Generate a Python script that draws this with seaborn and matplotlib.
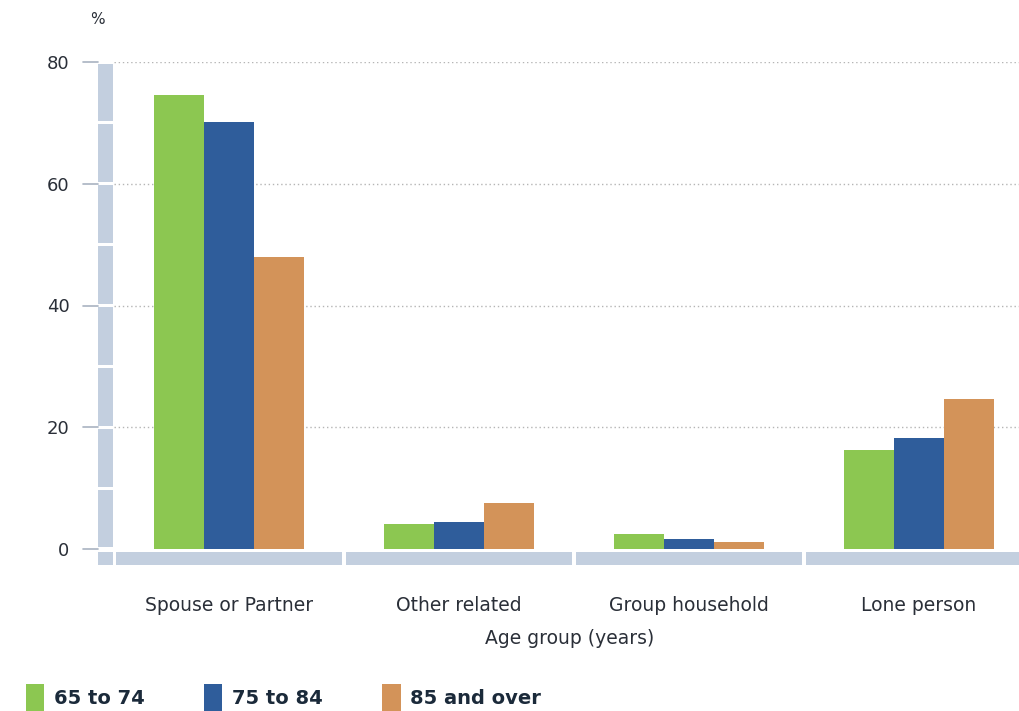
import matplotlib
matplotlib.use("Agg")
import matplotlib.pyplot as plt
import matplotlib.transforms as mtransforms
from matplotlib.patches import Rectangle, Patch
import seaborn as sns
import pandas as pd

categories = ["Spouse or Partner", "Other related", "Group household", "Lone person"]
age_groups = ["65 to 74", "75 to 84", "85 and over"]
vals_65_74 = [74.5, 4.1, 2.5, 16.3]
vals_75_84 = [70.2, 4.4, 1.7, 18.2]
vals_85_over = [47.9, 7.6, 1.1, 24.6]
yticks = [0, 20, 40, 60, 80]

colors = ["#8cc751", "#2f5d9b", "#d39359"]
strip_color = "#c3cfdf"

rows = []
for g, vals in zip(age_groups, [vals_65_74, vals_75_84, vals_85_over]):
    for c, v in zip(categories, vals):
        rows.append({"cat": c, "age": g, "val": v})
df = pd.DataFrame(rows)

sns.set_theme(style="white")
plt.rcParams["font.family"] = ["DejaVu Sans"]
text_color = "#2a2f38"

AX_W = 920
fig = plt.figure(figsize=(10.2, 7.11), dpi=100)
ax = fig.add_axes([114 / 1020, 1 - 549 / 711, AX_W / 1020, 487 / 711])

sns.barplot(data=df, x="cat", y="val", hue="age", order=categories,
            hue_order=age_groups, palette=colors, width=0.65, ax=ax,
            legend=False, saturation=1, edgecolor="none", linewidth=0)

ax.set_xlim(-0.5, 3.5)
ax.set_ylim(0, 80)
for s in ax.spines.values():
    s.set_visible(False)

# grid lines
for y in yticks[1:]:
    ax.axhline(y, color="#b5b5b5", linestyle=(0, (1, 2)), linewidth=1.0, zorder=0)

ax.set_yticks(yticks)
ax.set_yticklabels([str(t) for t in yticks], fontsize=13, color=text_color)
ax.tick_params(axis="y", length=0, pad=32)
ax.set_xticks(range(len(categories)))
ax.set_xticklabels(categories, fontsize=13.5, color=text_color)
ax.tick_params(axis="x", length=0, pad=34)
ax.set_xlabel("Age group (years)", fontsize=13.5, color=text_color)
ax.xaxis.set_label_coords((570 - 114) / AX_W, -(629 - 549) / 487)
ax.set_ylabel("")

# decorative vertical strip
tv = mtransforms.blended_transform_factory(ax.transAxes, ax.transData)
x0 = (98 - 114) / AX_W
w = 15 / AX_W
for lo in range(0, 80, 10):
    ax.add_patch(Rectangle((x0, lo + 0.25), w, 9.5, transform=tv,
                           facecolor=strip_color, edgecolor="none", clip_on=False, zorder=1))
ax.add_patch(Rectangle((x0, -16 / 487), w, 13 / 487, transform=ax.transAxes,
                       facecolor=strip_color, edgecolor="none", clip_on=False, zorder=1))
# tick marks
for y in yticks:
    ax.plot([(83 - 114) / AX_W, (98 - 114) / AX_W], [y, y], transform=tv,
            color="#a9b3c1", linewidth=1.2, clip_on=False)

# decorative horizontal strip
th = mtransforms.blended_transform_factory(ax.transData, ax.transAxes)
for i in range(len(categories)):
    ax.add_patch(Rectangle((i - 0.5 + 0.01, -16 / 487), 0.98, 13 / 487, transform=th,
                           facecolor=strip_color, edgecolor="none", clip_on=False, zorder=1))

fig.text(97 / 1020, 1 - 20 / 711, "%", fontsize=11, color=text_color, ha="center", va="center")

handles = [Patch(facecolor=c, edgecolor="none") for c in colors]
leg = fig.legend(handles, age_groups, loc="lower left", bbox_to_anchor=(0.008, -0.025),
                 ncol=3, frameon=False, handlelength=0.95, handleheight=1.75,
                 columnspacing=3.05, handletextpad=0.5,
                 prop={"weight": "bold", "size": 14})
for t in leg.get_texts():
    t.set_color("#1b2a3a")

fig.savefig("out.png", dpi=100)
